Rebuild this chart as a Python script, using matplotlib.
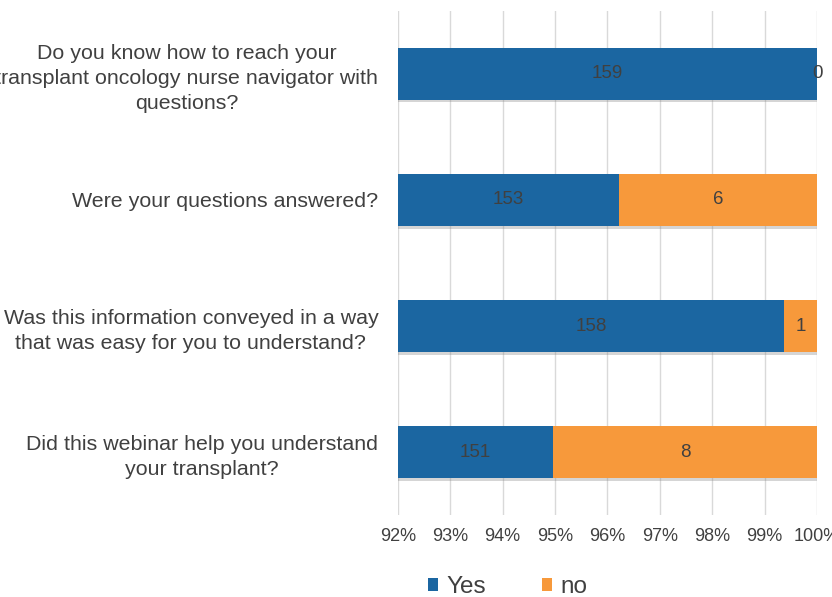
import matplotlib
matplotlib.use("Agg")
import matplotlib.pyplot as plt
import matplotlib.patheffects as pe
from matplotlib.patches import Patch
import numpy as np

questions = [
    "Do you know how to reach your\ntransplant oncology nurse navigator with\nquestions?",
    "Were your questions answered?",
    "Was this information conveyed in a way\nthat was easy for you to understand?",
    "Did this webinar help you understand\nyour transplant?",
]
yes_counts = [159, 153, 158, 151]
no_counts = [0, 6, 1, 8]
x_ticks = [0.92, 0.93, 0.94, 0.95, 0.96, 0.97, 0.98, 0.99, 1.00]
x_tick_labels = ["92%", "93%", "94%", "95%", "96%", "97%", "98%", "99%", "100%"]
series_names = ["Yes", "no"]

plt.rcParams['font.family'] = ['Liberation Sans', 'DejaVu Sans']
text_color = "#404040"
blue = "#1b66a1"
orange = "#f7993b"

fig = plt.figure(figsize=(8.32, 5.97), dpi=100)
ax = fig.add_axes([0.478, 0.137, 0.504, 0.845])

yes = np.array(yes_counts, dtype=float)
no = np.array(no_counts, dtype=float)
tot = yes + no
yes_f = yes / tot
no_f = no / tot
ypos = np.arange(len(questions))

shadow = [pe.SimplePatchShadow(offset=(1.5, -2), shadow_rgbFace="#888888", alpha=0.35), pe.Normal()]
b1 = ax.barh(ypos, yes_f, height=0.41, color=blue, zorder=3)
b2 = ax.barh(ypos, no_f, left=yes_f, height=0.41, color=orange, zorder=3)
for b in list(b1) + list(b2):
    b.set_path_effects(shadow)

xmin = x_ticks[0]
for i in range(len(questions)):
    cx = (xmin + yes_f[i]) / 2
    ax.text(cx, ypos[i], str(yes_counts[i]), ha="center", va="center", fontsize=13.5, color=text_color, zorder=4)
    cx2 = yes_f[i] + no_f[i] / 2
    ax.text(cx2, ypos[i], str(no_counts[i]), ha="center", va="center", fontsize=13.5, color=text_color, zorder=4)

ax.set_xlim(x_ticks[0], x_ticks[-1])
ax.set_ylim(len(questions) - 0.5, -0.5)
ax.set_xticks(x_ticks)
ax.set_xticklabels(x_tick_labels, fontsize=13, color=text_color)
ax.set_yticks(ypos)
ax.set_yticklabels(questions, fontsize=15.4, color=text_color, multialignment="center", linespacing=1.4)
ax.tick_params(axis="both", length=0)
ax.tick_params(axis="x", pad=9)
ax.tick_params(axis="y", pad=14)
ax.grid(axis="x", color="#d9d9d9", linewidth=1, zorder=0)
for s in ax.spines.values():
    s.set_visible(False)

handles = [Patch(facecolor=blue), Patch(facecolor=orange)]
leg = fig.legend(handles=handles, labels=series_names, loc="center", bbox_to_anchor=(0.61, 0.016),
                 ncol=2, frameon=False, fontsize=17.5, handlelength=0.42, handleheight=0.42,
                 handletextpad=0.35, columnspacing=2.3, labelcolor=text_color)

fig.savefig("out.png", dpi=100)
